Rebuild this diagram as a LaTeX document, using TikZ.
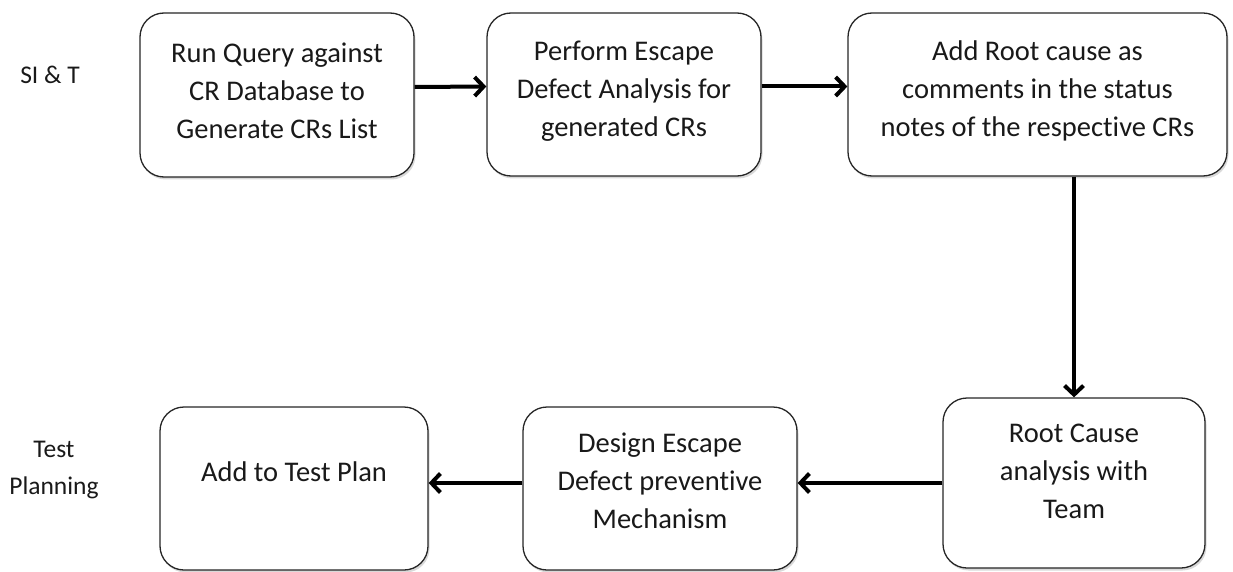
\documentclass[tikz,border=0pt]{standalone}
\usepackage{fontspec}
\setmainfont[Ligatures=NoCommon]{Carlito}
\usetikzlibrary{arrows.meta,shadows}

\tikzset{
  stepbox/.style={draw=black!85, line width=1.3pt, rounded corners=24pt, fill=white,
    drop shadow={shadow xshift=1.5pt, shadow yshift=-2.5pt, opacity=0.3},
    inner sep=0pt},
  boxtext/.style={align=center, inner sep=0pt, text=black!90,
    font=\fontsize{28.5}{38}\selectfont},
  lanelabel/.style={align=center, inner sep=0pt, text=black!90,
    font=\fontsize{25.5}{37}\selectfont},
  flow/.style={line width=4pt, -{Straight Barb[length=9pt,width=19pt]}}
}

\begin{document}
\begin{tikzpicture}[x=1pt,y=1pt]
  \useasboundingbox (0,0) rectangle (1233,-572);

  % lane labels
  \node[lanelabel] (laneA) at (50,-75) {SI \& T};
  \node[lanelabel] (laneB) at (54,-470) {Test\\Planning};

  % upper row
  \node[stepbox, minimum width=274pt, minimum height=164pt] (b1) at (277,-95) {};
  \node[stepbox, minimum width=274pt, minimum height=163pt] (b2) at (624,-94.5) {};
  \node[stepbox, minimum width=379pt, minimum height=163pt] (b3) at (1037.5,-94.5) {};

  % lower row
  \node[stepbox, minimum width=262pt, minimum height=170pt] (b4) at (1074,-483) {};
  \node[stepbox, minimum width=274pt, minimum height=163pt] (b5) at (660,-488.5) {};
  \node[stepbox, minimum width=268pt, minimum height=163pt] (b6) at (294,-488.5) {};

  % box captions
  \node[boxtext] (t1) at ([yshift=4pt]b1.center) {Run Query against\\CR Database to\\Generate CRs List};
  \node[boxtext] (t2) at ([yshift=3.5pt]b2.center) {Perform Escape\\Defect Analysis for\\generated CRs};
  \node[boxtext] (t3) at ([yshift=3.5pt]b3.center) {Add Root cause as\\comments in the status\\notes of the respective CRs};
  \node[boxtext] (t4) at ([yshift=12pt]b4.center) {Root Cause\\analysis with\\Team};
  \node[boxtext] (t5) at ([yshift=8pt]b5.center) {Design Escape\\Defect preventive\\Mechanism};
  \node[boxtext] (t6) at ([yshift=17pt]b6.center) {Add to Test Plan};

  % connectors
  \draw[flow] ([yshift=8pt]b1.east) -- ([yshift=8pt]b2.west);
  \draw[flow] ([yshift=8pt]b2.east) -- ([yshift=8pt]b3.west);
  \draw[flow] (b3.south -| b4.north) -- (b4.north);
  \draw[flow] (b4.west) -- (b4.west -| b5.east);
  \draw[flow] (b4.west -| b5.west) -- (b4.west -| b6.east);
\end{tikzpicture}
\end{document}
